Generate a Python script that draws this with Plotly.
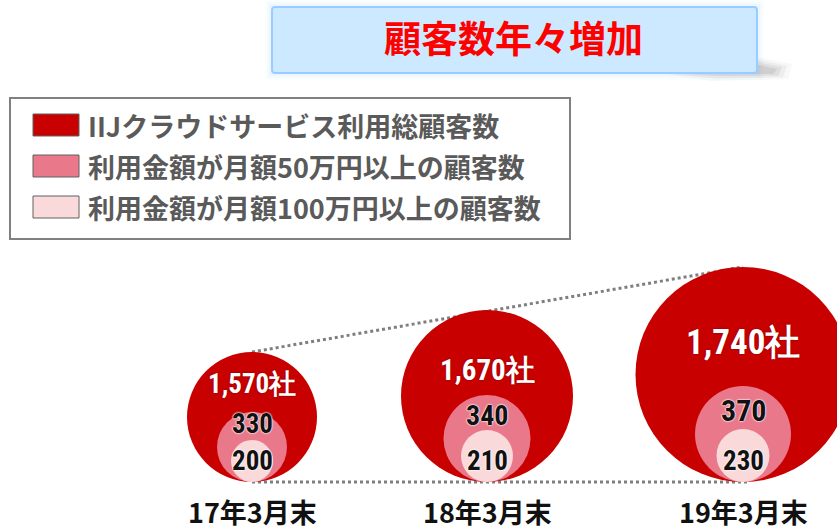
import plotly.graph_objects as go

# ---------------- data ----------------
periods = ["17年3月末", "18年3月末", "19年3月末"]
total_customers = [1570, 1670, 1740]
over_500k = [330, 340, 370]
over_1m = [200, 210, 230]
series_names = [
    "IIJクラウドサービス利用総顧客数",
    "利用金額が月額50万円以上の顧客数",
    "利用金額が月額100万円以上の顧客数",
]
title_text = "顧客数年々増加"

# ---------------- layout / style ----------------
W, H = 837, 530
center_x = [252, 487, 743]
baseline = 482
outer_d = [130, 172, 215]
mid_d = [70, 87, 96]
inner_d = [42, 52, 53]
outer_label_off = [32, 60, 75]     # from circle top to label centre
mid_label_off = [12, 20, 24]
inner_label_up = 21
outer_fs = [27, 29, 35]
mid_fs = [27, 28, 30]
inner_fs = [27, 27, 27]
colors = ["#C80000", "#E8788A", "#FAD9DA"]
jp = "Noto Sans CJK JP, Noto Sans, sans-serif"
num_font = "Liberation Sans Narrow, Arial Narrow, Roboto Condensed, Liberation Sans, sans-serif"

fig = go.Figure()

# dotted guide lines (behind circles)
top_y = [baseline - d for d in outer_d]
fig.add_trace(go.Scatter(
    x=[center_x[0], center_x[-1]], y=[top_y[0], top_y[-1]], mode="lines",
    line=dict(color="#7F7F7F", width=3, dash="dot"), hoverinfo="skip", showlegend=False))
fig.add_trace(go.Scatter(
    x=[center_x[0], center_x[-1] + 7], y=[baseline, baseline], mode="lines",
    line=dict(color="#7F7F7F", width=3, dash="dot"), hoverinfo="skip", showlegend=False))

# circles
for ds, col, name in zip([outer_d, mid_d, inner_d], colors, series_names):
    fig.add_trace(go.Scatter(
        x=center_x, y=[baseline - d / 2 for d in ds], mode="markers",
        marker=dict(size=ds, color=col, line=dict(width=0), opacity=1),
        name=name, hoverinfo="skip", showlegend=False))

annotations = []
halo_w = "0px 0px 2px white, 0px 0px 2px white, 0px 0px 1px white"
for i in range(len(periods)):
    top = baseline - outer_d[i]
    annotations.append(dict(
        x=center_x[i], y=top + outer_label_off[i], xref="x", yref="y",
        text=f"<b>{total_customers[i]:,}社</b>", showarrow=False,
        font=dict(family=num_font, size=outer_fs[i], color="white",
                  shadow="0px 0px 2px rgba(80,0,0,0.6)"),
        xanchor="center", yanchor="middle"))
    annotations.append(dict(
        x=center_x[i], y=baseline - mid_d[i] + mid_label_off[i], xref="x", yref="y",
        text=f"<b>{over_500k[i]}</b>", showarrow=False,
        font=dict(family=num_font, size=mid_fs[i], color="#111111", shadow=halo_w),
        xanchor="center", yanchor="middle"))
    annotations.append(dict(
        x=center_x[i], y=baseline - inner_label_up, xref="x", yref="y",
        text=f"<b>{over_1m[i]}</b>", showarrow=False,
        font=dict(family=num_font, size=inner_fs[i], color="#111111", shadow=halo_w),
        xanchor="center", yanchor="middle"))
    annotations.append(dict(
        x=center_x[i], y=511, xref="x", yref="y",
        text=f"<b>{periods[i]}</b>", showarrow=False,
        font=dict(family=jp, size=27, color="#111111"),
        xanchor="center", yanchor="middle"))

# legend (manual)
shapes = []
shapes.append(dict(type="rect", xref="x", yref="y", x0=10, x1=570, y0=98, y1=239,
                   line=dict(color="#808080", width=2), fillcolor="white", layer="below"))
row_y = [125, 166, 207]
for name, col, ry in zip(series_names, colors, row_y):
    shapes.append(dict(type="rect", xref="x", yref="y", x0=33, x1=79, y0=ry - 11, y1=ry + 11,
                       line=dict(color="#606060", width=1), fillcolor=col))
    annotations.append(dict(
        x=86, y=ry, xref="x", yref="y", text=f"<b>{name}</b>", showarrow=False,
        font=dict(family=jp, size=27, color="#5A5A5A"), xanchor="left", yanchor="middle"))

# title box with soft glow and a lower-right shadow
for k, op in enumerate([0.06, 0.08, 0.1]):
    g = 7 - 2 * k
    shapes.append(dict(type="rect", xref="x", yref="y", x0=272 - g, x1=757 + g,
                       y0=7 - g, y1=73 + g, line=dict(width=0),
                       fillcolor=f"rgba(180,220,250,{op})", layer="below"))
for k, op in enumerate([0.04, 0.06, 0.08, 0.1]):
    g = 5 * k
    shapes.append(dict(type="path", xref="x", yref="y",
                       path=f"M {660+g} 73 L 757 73 L 757 {57+g/2} L {792-g} {64+g/3} L {788-g} {79-g/3} L {710+g} {81-g/2} Z",
                       line=dict(width=0), fillcolor=f"rgba(70,70,70,{op})", layer="below"))
r = 3
x0, x1, y0, y1 = 272, 757, 7, 73
shapes.append(dict(type="path", xref="x", yref="y",
                   path=(f"M {x0+r} {y0} L {x1-r} {y0} Q {x1} {y0} {x1} {y0+r} L {x1} {y1-r} "
                         f"Q {x1} {y1} {x1-r} {y1} L {x0+r} {y1} Q {x0} {y1} {x0} {y1-r} "
                         f"L {x0} {y0+r} Q {x0} {y0} {x0+r} {y0} Z"),
                   line=dict(color="#99CCFF", width=2), fillcolor="#CCE9FF"))
annotations.append(dict(
    x=(x0 + x1) / 2 - 1, y=37, xref="x", yref="y", text=f"<b>{title_text}</b>",
    showarrow=False, font=dict(family=jp, size=37, color="#FF0000"),
    xanchor="center", yanchor="middle"))

fig.update_layout(
    width=W, height=H, margin=dict(l=0, r=0, t=0, b=0),
    paper_bgcolor="white", plot_bgcolor="white",
    xaxis=dict(range=[0, W], visible=False, fixedrange=True),
    yaxis=dict(range=[H, 0], visible=False, fixedrange=True),
    shapes=shapes, annotations=annotations, showlegend=False,
)

fig.write_html("out.html", config={"displayModeBar": False},
               post_script="document.body.style.margin='0px';document.body.style.overflow='hidden';")
